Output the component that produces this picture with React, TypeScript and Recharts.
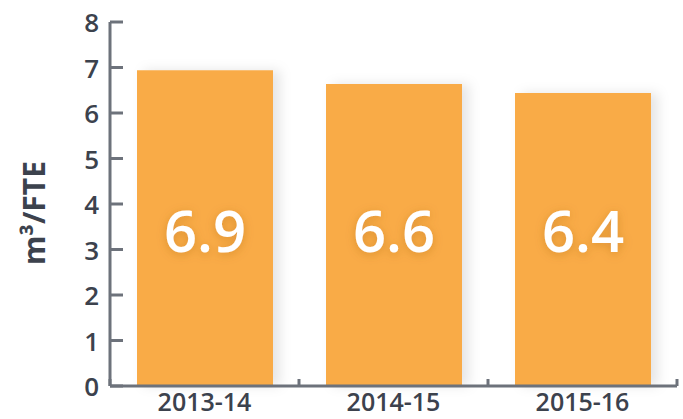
import React from 'react';
import { BarChart, Bar, XAxis, YAxis, LabelList } from 'recharts';

const years = ['2013-14', '2014-15', '2015-16'];
const usage = [6.94, 6.64, 6.44];
const yTicks = [0, 1, 2, 3, 4, 5, 6, 7, 8];

const data = years.map((year, i) => ({ year, usage: usage[i] }));

const FONT = '"Open Sans", sans-serif';
const TEXT = '#3c424d';
const AXIS = '#6d727b';
const ORANGE = '#F9AB47';

const W = 683;
const H = 419;
const margin = { top: 22, right: 6, left: 0, bottom: 0 };
const yAxisWidth = 110;
const xAxisHeight = 33;
const band = (W - margin.left - yAxisWidth - margin.right) / years.length;

const YTick = ({ x, y, payload }: any) => (
  <g>
    <line x1={x} x2={x + 13} y1={y} y2={y} stroke={AXIS} strokeWidth={3} />
    <text x={x - 11} y={y} textAnchor="end" dominantBaseline="central"
      fontFamily={FONT} fontSize={26} fontWeight={600} fill={TEXT}>
      {payload.value}
    </text>
  </g>
);

const XTick = ({ x, y, payload, index }: any) => (
  <g>
    <line x1={x - band / 2} x2={x - band / 2} y1={y} y2={y - 7} stroke={AXIS} strokeWidth={3} />
    {index === years.length - 1 && (
      <line x1={x + band / 2} x2={x + band / 2} y1={y} y2={y - 7} stroke={AXIS} strokeWidth={3} />
    )}
    <text x={x} y={y + 25} textAnchor="middle"
      fontFamily={FONT} fontSize={25} fontWeight={600} fill={TEXT}>
      {payload.value}
    </text>
  </g>
);

const YLabel = ({ viewBox }: any) => {
  const cx = 33;
  const cy = viewBox.y + viewBox.height / 2 + 9;
  return (
    <text x={cx} y={cy} transform={`rotate(-90, ${cx}, ${cy})`} textAnchor="middle"
      dominantBaseline="central" fontFamily={FONT} fontSize={30} fontWeight={700} fill={TEXT}>
      m³/FTE
    </text>
  );
};

export default function App() {
  return (
    <div style={{ position: 'absolute', left: 0, top: 0, width: W, height: H, background: '#fff' }}>
      <svg width={0} height={0} style={{ position: 'absolute' }}>
        <defs>
          <filter id="barShadow" x="-20%" y="-20%" width="150%" height="140%">
            <feDropShadow dx={7} dy={0} stdDeviation={6} floodColor="#000" floodOpacity={0.1} />
          </filter>
          <filter id="textShadow" x="-30%" y="-30%" width="160%" height="160%">
            <feDropShadow dx={0} dy={2} stdDeviation={5} floodColor="#a0601a" floodOpacity={0.35} />
          </filter>
        </defs>
      </svg>
      <BarChart width={W} height={H} data={data} margin={margin}>
        <XAxis
          dataKey="year"
          height={xAxisHeight}
          axisLine={{ stroke: AXIS, strokeWidth: 3 }}
          tickLine={false}
          tickSize={0}
          tickMargin={0}
          tick={<XTick />}
          interval={0}
        />
        <YAxis
          width={yAxisWidth}
          domain={[0, 8]}
          ticks={yTicks}
          axisLine={{ stroke: AXIS, strokeWidth: 3 }}
          tickLine={false}
          tickSize={0}
          tickMargin={0}
          tick={<YTick />}
          interval={0}
          label={<YLabel />}
        />
        <Bar dataKey="usage" fill={ORANGE} barSize={136} isAnimationActive={false}
          style={{ filter: 'url(#barShadow)' }}>
          <LabelList
            dataKey="usage"
            content={({ x, width, value }: any) => (
              <text x={x + width / 2} y={252} textAnchor="middle" fontFamily={FONT}
                fontSize={58} fontWeight={600} fill="#fff" style={{ filter: 'url(#textShadow)' }}>
                {Number(value).toFixed(1)}
              </text>
            )}
          />
        </Bar>
      </BarChart>
    </div>
  );
}
